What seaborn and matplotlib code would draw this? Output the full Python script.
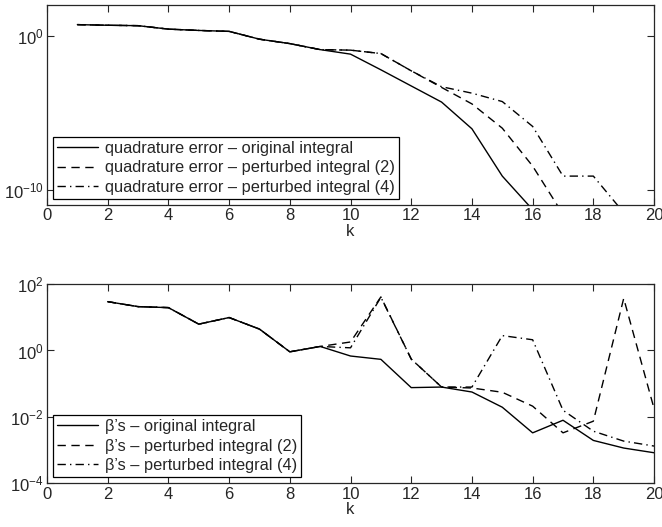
import numpy as np
import pandas as pd
import matplotlib
matplotlib.use("Agg")
import matplotlib.pyplot as plt
import matplotlib.ticker as mticker
import seaborn as sns

# ------------------------------------------------------------------
# DATA
# ------------------------------------------------------------------
k_quad_orig = [1, 2, 3, 4, 5, 6, 7, 8, 9, 10, 11, 12, 13, 14, 15, 16]
quad_orig = [5.5, 5.0, 4.7, 2.8, 2.3, 2.0, 0.62, 0.32, 0.13, 6.6e-2, 6.3e-3,
             5.6e-4, 5.0e-5, 9.1e-7, 7.6e-10, 5.0e-12]

k_quad_p2 = [1, 2, 3, 4, 5, 6, 7, 8, 9, 10, 11, 12, 13, 14, 15, 16, 17]
quad_p2 = [5.5, 5.0, 4.7, 2.8, 2.3, 2.0, 0.62, 0.32, 0.13, 1.2e-1, 7.2e-2,
           5.4e-3, 4.5e-4, 3.8e-5, 1.0e-6, 3.4e-9, 2.5e-12]

k_quad_p4 = [1, 2, 3, 4, 5, 6, 7, 8, 9, 10, 11, 12, 13, 14, 15, 16, 17, 18, 19]
quad_p4 = [5.5, 5.0, 4.7, 2.8, 2.3, 2.0, 0.62, 0.32, 0.13, 1.2e-1, 7.2e-2,
           5.4e-3, 5.0e-4, 1.9e-4, 5.4e-5, 1.3e-6, 7.6e-10, 7.6e-10, 3.2e-12]

k_beta = [2, 3, 4, 5, 6, 7, 8, 9, 10, 11, 12, 13, 14, 15, 16, 17, 18, 19, 20]
beta_orig = [29.5, 20.9, 19.5, 6.2, 9.8, 4.4, 0.91, 1.32, 0.68, 0.54, 0.076,
             0.079, 0.056, 0.0195, 0.0033, 0.0079, 0.00195, 0.00115, 0.00083]
beta_p2 = [29.5, 20.9, 19.5, 6.2, 9.8, 4.4, 0.91, 1.32, 1.8, 41.0, 0.55,
           0.079, 0.074, 0.055, 0.021, 0.0033, 0.0074, 37.0, 0.0178]
beta_p4 = [29.5, 20.9, 19.5, 6.2, 9.8, 4.4, 0.91, 1.32, 1.2, 40.0, 0.55,
           0.079, 0.079, 2.8, 2.1, 0.0158, 0.0037, 0.00186, 0.00132]

quad_labels = ["quadrature error – original integral",
               "quadrature error – perturbed integral (2)",
               "quadrature error – perturbed integral (4)"]
beta_labels = ["β’s – original integral",
               "β’s – perturbed integral (2)",
               "β’s – perturbed integral (4)"]

# ------------------------------------------------------------------
# STYLE
# ------------------------------------------------------------------
sns.set_style("ticks")
plt.rcParams['font.family'] = ['Liberation Sans', 'DejaVu Sans']
plt.rcParams['mathtext.fontset'] = 'custom'
plt.rcParams['mathtext.rm'] = 'Liberation Sans'
plt.rcParams['mathtext.it'] = 'Liberation Sans:italic'
plt.rcParams['font.size'] = 12

styles = ['-', (0, (6, 4)), (0, (6, 3, 1, 3))]

fig = plt.figure(figsize=(6.62, 5.27), dpi=100)
ax1 = fig.add_axes([0.071, 0.611, 0.917, 0.379])
ax2 = fig.add_axes([0.071, 0.083, 0.917, 0.378])


def draw(ax, series, labels):
    for (kk, vv), lab, ls in zip(series, labels, styles):
        df = pd.DataFrame({'k': kk, 'v': vv})
        sns.lineplot(data=df, x='k', y='v', ax=ax, color='black',
                     linewidth=1.0, linestyle=ls, label=lab)
    ax.set_yscale('log')
    ax.set_xlim(0, 20)
    ax.set_xticks(range(0, 21, 2))
    ax.xaxis.set_minor_locator(mticker.NullLocator())
    ax.tick_params(direction='in', length=5, width=0.8, top=True, right=True,
                   labelsize=12, pad=2.5)
    for sp in ax.spines.values():
        sp.set_linewidth(0.9)
        sp.set_visible(True)
    ax.set_xlabel("k", fontsize=12, labelpad=0.5)
    ax.set_ylabel("")
    leg = ax.legend(loc='lower left', bbox_to_anchor=(0.0105, 0.03),
                    borderaxespad=0, fontsize=11.8, frameon=True,
                    fancybox=False, framealpha=1, edgecolor='black',
                    handlelength=2.5, handletextpad=0.4, labelspacing=0.28,
                    borderpad=0.25)
    leg.get_frame().set_linewidth(0.9)


draw(ax1, [(k_quad_orig, quad_orig), (k_quad_p2, quad_p2),
           (k_quad_p4, quad_p4)], quad_labels)
ax1.set_ylim(1e-11, 1e2)
ax1.set_yticks([1e-10, 1e0])

draw(ax2, [(k_beta, beta_orig), (k_beta, beta_p2), (k_beta, beta_p4)],
     beta_labels)
ax2.set_ylim(1e-4, 1e2)
ax2.set_yticks([1e-4, 1e-2, 1e0, 1e2])

for ax in (ax1, ax2):
    ax.yaxis.set_minor_locator(mticker.NullLocator())

fig.savefig("out.png", dpi=100)
plt.close(fig)
